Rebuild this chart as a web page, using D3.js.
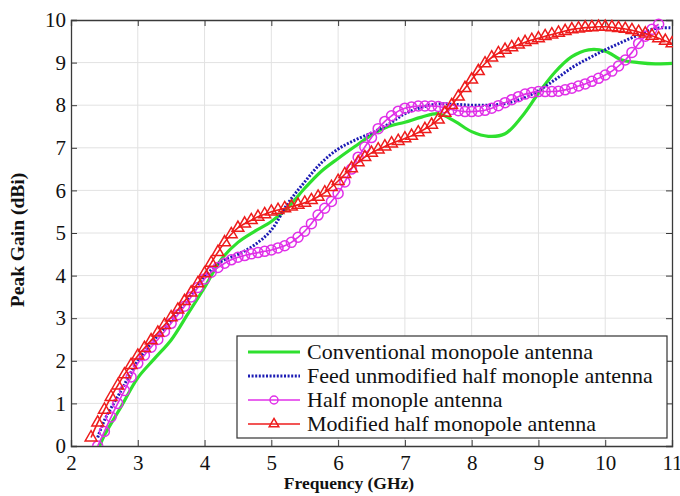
<!DOCTYPE html>
<html>
<head>
<meta charset="utf-8">
<script src="https://cdn.jsdelivr.net/npm/d3@7"></script>
<style>
  body { margin: 0; background: #fff; overflow: hidden; }
  svg text { font-family: "Liberation Serif", "DejaVu Serif", "Times New Roman", serif; fill: #111; }
</style>
</head>
<body>
<div id="chart"></div>
<script>
// --------------------------------------
//  Data
// --------------------------------------

const xTicks = [2, 3, 4, 5, 6, 7, 8, 9, 10, 11];
const yTicks = [0, 1, 2, 3, 4, 5, 6, 7, 8, 9, 10];

const seriesNames = [
  "Conventional monopole antenna",
  "Feed unmodified half monople antenna",
  "Half monople antenna",
  "Modified half monopole antenna"
];

// Conventional monopole
const convFreq = [2.43, 2.5, 2.75, 3.0, 3.25, 3.5, 3.75, 4.0, 4.25, 4.5, 4.75, 5.0, 5.25, 5.5, 5.75, 6.0,
  6.25, 6.5, 6.75, 7.0, 7.25, 7.5, 7.75, 8.0, 8.25, 8.5, 8.75, 9.0, 9.25, 9.5, 9.75, 10.0, 10.25, 10.5, 10.75, 11.0];
const convGain = [0.0, 0.25, 0.92, 1.6, 2.05, 2.49, 3.1, 3.72, 4.38, 4.78, 5.04, 5.27, 5.6, 6.05, 6.45, 6.75,
  7.03, 7.3, 7.5, 7.6, 7.72, 7.8, 7.62, 7.38, 7.27, 7.33, 7.73, 8.28, 8.78, 9.14, 9.3, 9.27, 9.06, 9.0, 8.97, 8.98];

// Feed unmodified half monopole
const feedFreq = [2.4, 2.5, 2.75, 3.0, 3.25, 3.5, 3.75, 4.0, 4.25, 4.5, 4.75, 5.0, 5.25, 5.5, 5.75, 6.0,
  6.25, 6.5, 6.75, 7.0, 7.25, 7.5, 7.75, 8.0, 8.25, 8.5, 8.75, 9.0, 9.25, 9.5, 9.75, 10.0, 10.25, 10.5, 10.75, 11.0];
const feedGain = [0.2, 0.6, 1.3, 2.0, 2.5, 2.95, 3.45, 3.97, 4.33, 4.5, 4.72, 5.07, 5.7, 6.2, 6.65, 6.97,
  7.18, 7.35, 7.55, 7.8, 7.95, 8.03, 8.02, 8.0, 8.0, 8.04, 8.15, 8.34, 8.6, 8.88, 9.1, 9.3, 9.48, 9.65, 9.8, 9.82];

// Half monopole (circles)
const halfFreq = [2.4, 2.5, 2.6, 2.7, 2.8, 2.9, 3.0, 3.1, 3.2, 3.3, 3.4, 3.5, 3.6, 3.7, 3.8, 3.9,
  4.0, 4.1, 4.2, 4.3, 4.4, 4.5, 4.6, 4.7, 4.8, 4.9, 5.0, 5.1, 5.2, 5.3, 5.4, 5.5, 5.6, 5.7, 5.8, 5.9,
  6.0, 6.1, 6.2, 6.3, 6.4, 6.5, 6.6, 6.7, 6.8, 6.9, 7.0, 7.1, 7.2, 7.3, 7.4, 7.5, 7.6, 7.7, 7.8, 7.9,
  8.0, 8.1, 8.2, 8.3, 8.4, 8.5, 8.6, 8.7, 8.8, 8.9, 9.0, 9.1, 9.2, 9.3, 9.4, 9.5, 9.6, 9.7, 9.8, 9.9,
  10.0, 10.1, 10.2, 10.3, 10.4, 10.5, 10.6, 10.7, 10.8];
const halfGain = [0.0, 0.34, 0.68, 1.0, 1.3, 1.62, 1.94, 2.13, 2.32, 2.5, 2.69, 2.88, 3.08, 3.28, 3.5, 3.72,
  3.92, 4.08, 4.19, 4.29, 4.37, 4.43, 4.47, 4.51, 4.54, 4.57, 4.6, 4.65, 4.7, 4.78, 4.9, 5.04, 5.22, 5.42, 5.58, 5.74,
  5.93, 6.2, 6.5, 6.78, 7.02, 7.24, 7.45, 7.62, 7.75, 7.86, 7.93, 7.96, 7.98, 7.98, 7.98, 7.97, 7.94, 7.9, 7.87, 7.85,
  7.85, 7.86, 7.88, 7.93, 7.99, 8.06, 8.13, 8.2, 8.26, 8.3, 8.32, 8.32, 8.32, 8.33, 8.36, 8.4, 8.45, 8.5, 8.56, 8.63,
  8.71, 8.8, 8.92, 9.06, 9.24, 9.45, 9.62, 9.78, 9.9];

// Modified half monopole (triangles)
const modFreq = [2.3, 2.4, 2.5, 2.6, 2.7, 2.8, 2.9, 3.0, 3.1, 3.2, 3.3, 3.4, 3.5, 3.6, 3.7, 3.8, 3.9,
  4.0, 4.1, 4.2, 4.3, 4.4, 4.5, 4.6, 4.7, 4.8, 4.9, 5.0, 5.1, 5.2, 5.3, 5.4, 5.5, 5.6, 5.7, 5.8, 5.9,
  6.0, 6.1, 6.2, 6.3, 6.4, 6.5, 6.6, 6.7, 6.8, 6.9, 7.0, 7.1, 7.2, 7.3, 7.4, 7.5, 7.6, 7.7, 7.8, 7.9,
  8.0, 8.1, 8.2, 8.3, 8.4, 8.5, 8.6, 8.7, 8.8, 8.9, 9.0, 9.1, 9.2, 9.3, 9.4, 9.5, 9.6, 9.7, 9.8, 9.9,
  10.0, 10.1, 10.2, 10.3, 10.4, 10.5, 10.6, 10.7, 10.8, 10.9, 11.0];
const modGain = [0.2, 0.55, 0.85, 1.15, 1.42, 1.68, 1.9, 2.12, 2.3, 2.48, 2.66, 2.84, 3.02, 3.2, 3.4, 3.6, 3.82,
  4.05, 4.3, 4.55, 4.78, 4.97, 5.12, 5.22, 5.3, 5.38, 5.44, 5.5, 5.54, 5.58, 5.62, 5.66, 5.71, 5.77, 5.85, 5.95, 6.08,
  6.22, 6.38, 6.52, 6.66, 6.78, 6.88, 6.96, 7.03, 7.1, 7.16, 7.22, 7.28, 7.36, 7.44, 7.54, 7.66, 7.82, 8.0, 8.2, 8.4,
  8.6, 8.8, 8.98, 9.12, 9.22, 9.3, 9.36, 9.42, 9.48, 9.53, 9.57, 9.62, 9.66, 9.7, 9.74, 9.78, 9.8, 9.82, 9.83, 9.84,
  9.84, 9.83, 9.81, 9.79, 9.76, 9.72, 9.68, 9.63, 9.57, 9.51, 9.45];

// --------------------------------------
//  Margin and canvas
// --------------------------------------

const width = 680;
const height = 496;
const margin = {top: 20, right: 8, bottom: 50, left: 71};
const innerWidth = width - margin.left - margin.right;
const innerHeight = height - margin.top - margin.bottom;

const svg = d3.select("#chart")
  .append("svg")
    .attr("width", width)
    .attr("height", height)
    .attr("font-family", "'Liberation Serif', serif");

const inner = svg.append("g")
    .attr("transform", `translate(${margin.left}, ${margin.top})`);

// --------------------------------------
//  Scales
// --------------------------------------

const x = d3.scaleLinear().domain([2, 11]).range([0, innerWidth]);
const y = d3.scaleLinear().domain([0, 10]).range([innerHeight, 0]);

// --------------------------------------
//  Grid
// --------------------------------------

inner.append("g")
  .selectAll("line")
  .data(xTicks.slice(1, -1))
  .join("line")
    .attr("x1", d => x(d)).attr("x2", d => x(d))
    .attr("y1", 0).attr("y2", innerHeight)
    .attr("stroke", "#e2e2e2").attr("stroke-width", 1);

inner.append("g")
  .selectAll("line")
  .data(yTicks.slice(1, -1))
  .join("line")
    .attr("y1", d => y(d)).attr("y2", d => y(d))
    .attr("x1", 0).attr("x2", innerWidth)
    .attr("stroke", "#e2e2e2").attr("stroke-width", 1);

// --------------------------------------
//  Axes (MATLAB style box, ticks inside)
// --------------------------------------

const tickLen = 6;
const axisColor = "#3a3a3a";

const xAxis = inner.append("g")
    .attr("transform", `translate(0, ${innerHeight})`)
    .call(d3.axisBottom(x).tickValues(xTicks).tickSize(-tickLen).tickPadding(9).tickFormat(d3.format("d")));
const yAxis = inner.append("g")
    .call(d3.axisLeft(y).tickValues(yTicks).tickSize(-tickLen).tickPadding(5).tickFormat(d3.format("d")));
const xTop = inner.append("g")
    .call(d3.axisTop(x).tickValues(xTicks).tickSize(-tickLen).tickFormat(""));
const yRight = inner.append("g")
    .attr("transform", `translate(${innerWidth}, 0)`)
    .call(d3.axisRight(y).tickValues(yTicks).tickSize(-tickLen).tickFormat(""));

[xAxis, yAxis, xTop, yRight].forEach(a => {
  a.attr("font-family", null);
  a.selectAll("path").attr("stroke", axisColor).attr("stroke-width", 1.3);
  a.selectAll("line").attr("stroke", axisColor);
  a.selectAll("text")
    .style("font-size", "21px")
    .attr("fill", "#111");
});

// --------------------------------------
//  Lines and markers
// --------------------------------------

inner.append("clipPath").attr("id", "clip")
  .append("rect").attr("x", -1).attr("y", -6).attr("width", innerWidth + 2).attr("height", innerHeight + 6);

const plot = inner.append("g").attr("clip-path", "url(#clip)");

const toPoints = (fx, gy) => fx.map((f, i) => [f, gy[i]]);
const line = d3.line()
    .x(d => x(d[0]))
    .y(d => y(d[1]))
    .curve(d3.curveCatmullRom.alpha(0.5));

const convData = toPoints(convFreq, convGain);
const feedData = toPoints(feedFreq, feedGain);
const halfData = toPoints(halfFreq, halfGain);
const modData = toPoints(modFreq, modGain);

const green = "#2ee02e";
const blue = "#1c1cb4";
const magenta = "#e030e8";
const red = "#ee1c1c";

plot.append("path").datum(convData)
    .attr("d", line).attr("fill", "none")
    .attr("stroke", green).attr("stroke-width", 3.2);

plot.append("path").datum(feedData)
    .attr("d", line).attr("fill", "none")
    .attr("stroke", blue).attr("stroke-width", 3)
    .attr("stroke-dasharray", "2,1.6");

plot.append("path").datum(halfData)
    .attr("d", line).attr("fill", "none")
    .attr("stroke", magenta).attr("stroke-width", 1.6);

plot.append("g")
  .selectAll("circle")
  .data(halfData)
  .join("circle")
    .attr("cx", d => x(d[0]))
    .attr("cy", d => y(d[1]))
    .attr("r", 5)
    .attr("fill", "none")
    .attr("stroke", magenta)
    .attr("stroke-width", 1.5);

plot.append("path").datum(modData)
    .attr("d", line).attr("fill", "none")
    .attr("stroke", red).attr("stroke-width", 1.6);

const tri = d3.symbol().type(d3.symbolTriangle).size(60);
plot.append("g")
  .selectAll("path")
  .data(modData)
  .join("path")
    .attr("transform", d => `translate(${x(d[0])}, ${y(d[1])})`)
    .attr("d", tri)
    .attr("fill", "none")
    .attr("stroke", red)
    .attr("stroke-width", 1.5);

// --------------------------------------
//  Axis titles
// --------------------------------------

svg.append("text")
    .attr("x", 349)
    .attr("y", 489)
    .attr("text-anchor", "middle")
    .style("font-size", "17.5px")
    .style("font-weight", "bold")
    .text("Frequency (GHz)");

svg.append("text")
    .attr("transform", `translate(24, 240) rotate(-90)`)
    .attr("text-anchor", "middle")
    .style("font-size", "19.5px")
    .style("font-weight", "bold")
    .text("Peak Gain (dBi)");

// --------------------------------------
//  Legend
// --------------------------------------

const legendX = 237, legendY = 336, legendW = 430, legendH = 102;
const legend = svg.append("g");

legend.append("rect")
    .attr("x", legendX).attr("y", legendY)
    .attr("width", legendW).attr("height", legendH)
    .attr("fill", "#fff")
    .attr("stroke", "#333").attr("stroke-width", 1.2);

const legendStyles = [
  {color: green, width: 3.2, dash: null, marker: null},
  {color: blue, width: 3, dash: "2,1.6", marker: null},
  {color: magenta, width: 1.6, dash: null, marker: "circle"},
  {color: red, width: 1.6, dash: null, marker: "triangle"}
];

const rowY = i => legendY + 16 + i * 24;

const items = legend.selectAll(".item")
  .data(seriesNames)
  .join("g")
    .attr("class", "item")
    .attr("transform", (d, i) => `translate(0, ${rowY(i)})`);

items.append("line")
    .attr("x1", legendX + 11).attr("x2", legendX + 63)
    .attr("y1", 0).attr("y2", 0)
    .attr("stroke", (d, i) => legendStyles[i].color)
    .attr("stroke-width", (d, i) => legendStyles[i].width)
    .attr("stroke-dasharray", (d, i) => legendStyles[i].dash);

items.filter((d, i) => legendStyles[i].marker === "circle")
  .append("circle")
    .attr("cx", legendX + 37).attr("cy", 0).attr("r", 4)
    .attr("fill", "none").attr("stroke", magenta).attr("stroke-width", 1.5);

items.filter((d, i) => legendStyles[i].marker === "triangle")
  .append("path")
    .attr("transform", `translate(${legendX + 37}, 0)`)
    .attr("d", d3.symbol().type(d3.symbolTriangle).size(40))
    .attr("fill", "none").attr("stroke", red).attr("stroke-width", 1.5);

items.append("text")
    .attr("x", legendX + 70)
    .attr("y", 0)
    .attr("dy", "0.33em")
    .style("font-size", "22px")
    .text(d => d);
</script>
</body>
</html>
